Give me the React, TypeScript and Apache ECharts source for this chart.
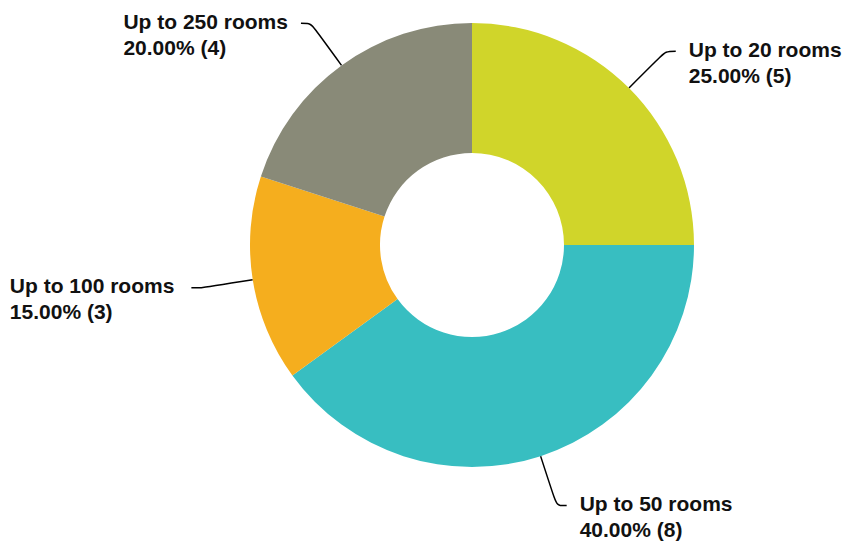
import React, { useEffect, useRef } from "react";
import * as echarts from "echarts";

const categories = ["Up to 20 rooms", "Up to 50 rooms", "Up to 100 rooms", "Up to 250 rooms"];
const counts = [5, 8, 3, 4];
const colors = ["#D0D52A", "#38BEC1", "#F5AE1E", "#898A78"];
const labelGaps = [13, 13, 17, 13];

export default function App() {
  const ref = useRef<HTMLDivElement>(null);
  useEffect(() => {
    const chart = echarts.init(ref.current!, null, { renderer: "svg" });
    const total = counts.reduce((a, b) => a + b, 0);
    const font = {
      fontFamily: "'Liberation Sans', Arial, sans-serif",
      fontWeight: "bold" as const,
      fontSize: 21,
      lineHeight: 26,
      color: "#111",
      align: "left" as const,
    };
    chart.setOption({
      animation: false,
      series: [
        {
          type: "pie",
          center: [472, 245],
          radius: [92, 222],
          startAngle: 90,
          clockwise: true,
          avoidLabelOverlap: false,
          data: categories.map((name, i) => ({
            name,
            value: counts[i],
            itemStyle: { color: colors[i] },
            label: { distanceToLabelLine: labelGaps[i] },
          })),
          label: {
            show: true,
            position: "outside",
            formatter: (p: any) =>
              `{e| }\n{t|${p.name}}\n{t|${((p.value / total) * 100).toFixed(2)}% (${p.value})}`,
            ...font,
            rich: { t: font, e: { ...font, fontSize: 2, lineHeight: 22 } },
            distanceToLabelLine: 13,
          },
          labelLine: {
            show: true,
            length: 52,
            length2: 10,
            smooth: 0.3,
            lineStyle: { color: "#000", width: 1.5 },
          },
          emphasis: { disabled: true },
        },
      ],
    });
    return () => chart.dispose();
  }, []);
  return (
    <div
      ref={ref}
      style={{ position: "absolute", left: 0, top: 0, width: 844, height: 550 }}
    />
  );
}
